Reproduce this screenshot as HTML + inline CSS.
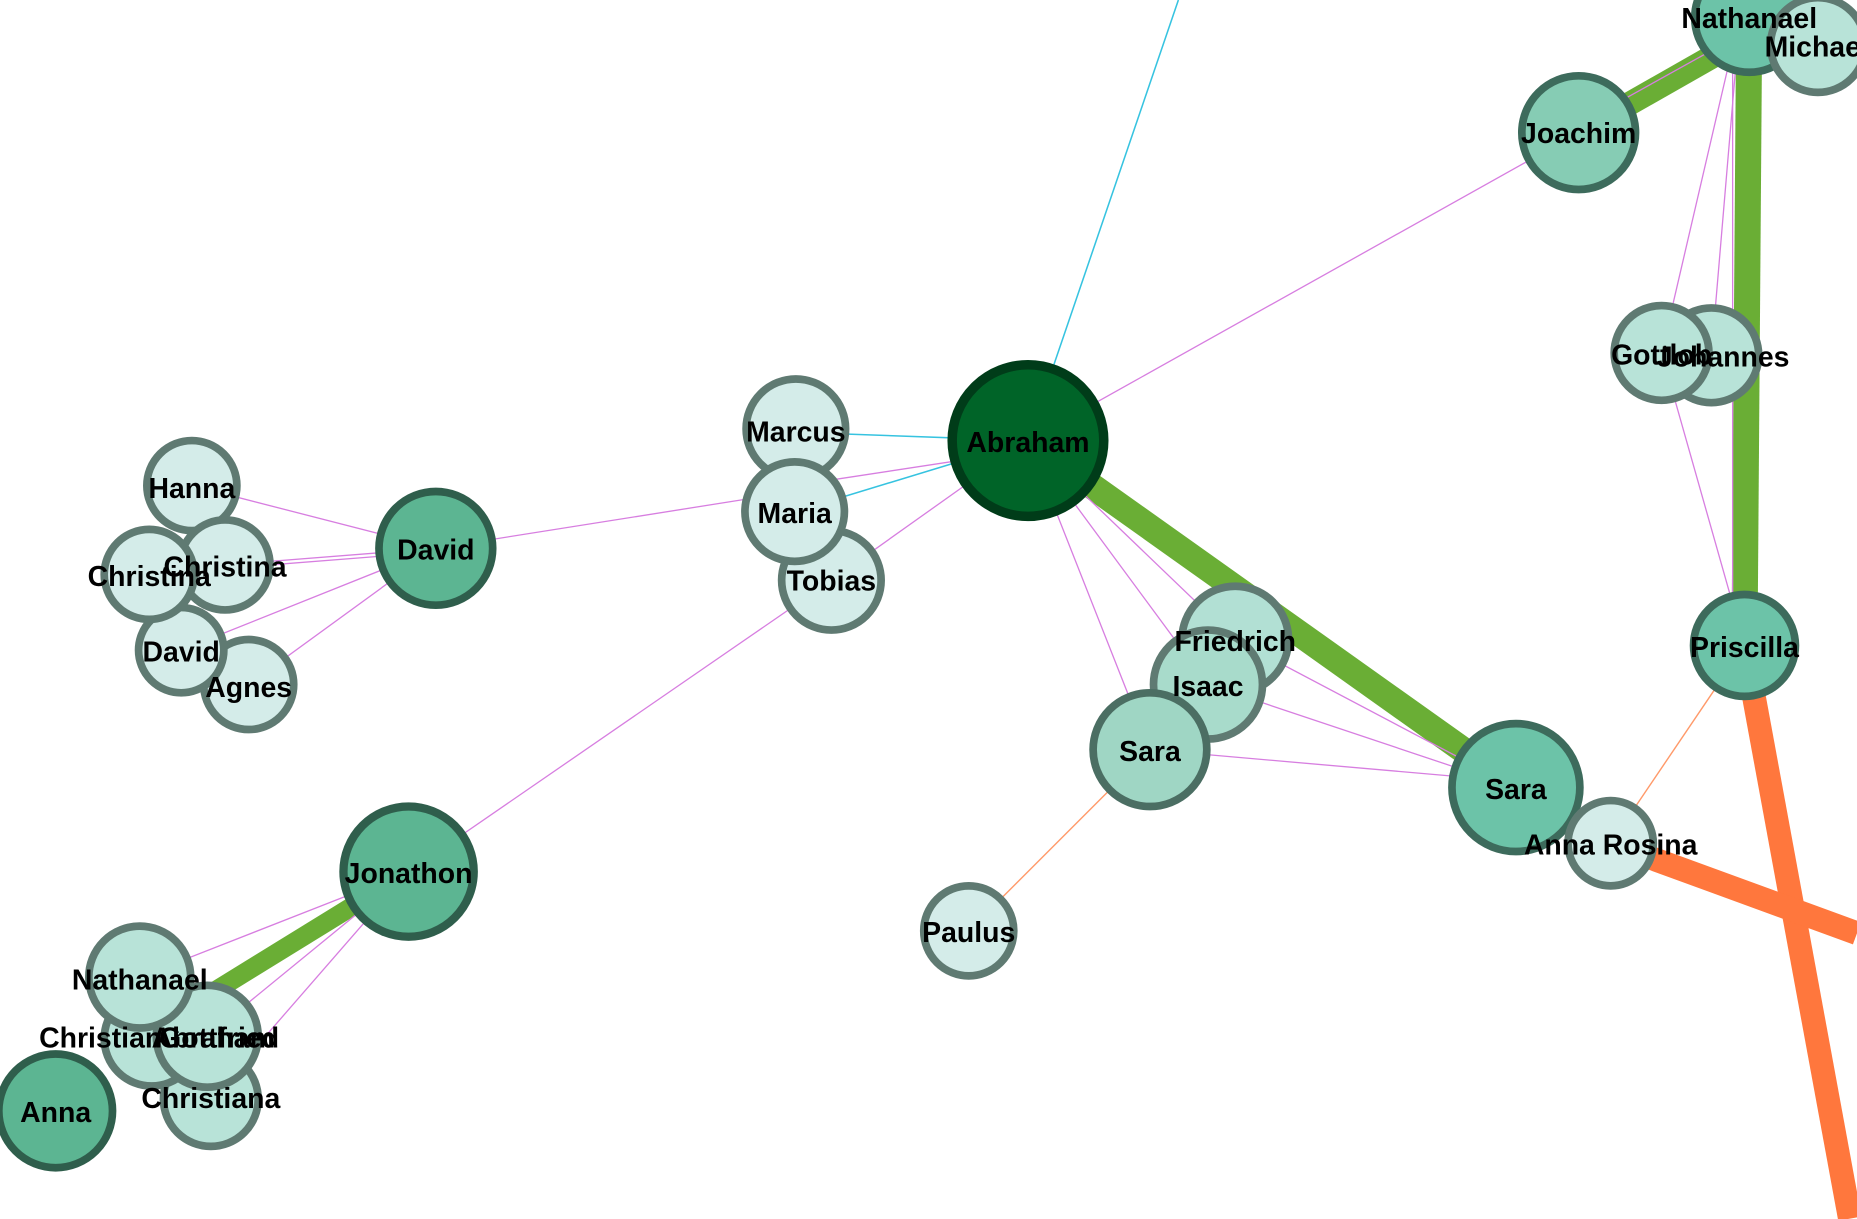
<!DOCTYPE html>
<html><head><meta charset="utf-8"><style>
html,body{margin:0;padding:0;background:#fff;overflow:hidden}
svg{display:block}
text{font-family:"Liberation Sans",Arial,sans-serif;font-weight:bold;font-size:24px;fill:#000;text-anchor:middle;dominant-baseline:central}
</style></head><body>
<svg width="1857" height="1219" viewBox="0 0 1568 1029.3" xmlns="http://www.w3.org/2000/svg">
<g fill="none" stroke-linecap="butt">
<line x1="868" y1="372" x2="1280" y2="665" stroke="#6aae35" stroke-width="22"/>
<line x1="1333" y1="112" x2="1477" y2="30" stroke="#6aae35" stroke-width="20"/>
<line x1="1477" y1="15" x2="1473" y2="545" stroke="#6aae35" stroke-width="22"/>
<line x1="345" y1="736" x2="160" y2="850" stroke="#6aae35" stroke-width="16"/>
<line x1="1473" y1="545" x2="1562" y2="1029" stroke="#ff773d" stroke-width="20"/>
<line x1="1360" y1="712" x2="1568" y2="788" stroke="#ff773d" stroke-width="20"/>
<g stroke="#36c3e0" stroke-width="1.3">
<line x1="868" y1="372" x2="995" y2="0"/>
<line x1="672" y1="365" x2="868" y2="372"/>
<line x1="671" y1="432" x2="868" y2="372"/>
</g>
<g stroke="#d77ee0" stroke-width="1.1">
<line x1="868" y1="372" x2="1333" y2="112"/>
<line x1="671" y1="410" x2="868" y2="380"/>
<line x1="702" y1="490" x2="868" y2="372"/>
<line x1="868" y1="372" x2="971" y2="633"/>
<line x1="868" y1="372" x2="1020" y2="578"/>
<line x1="868" y1="372" x2="1043" y2="540"/>
<line x1="1043" y1="540" x2="1280" y2="665"/>
<line x1="1020" y1="578" x2="1280" y2="665"/>
<line x1="971" y1="633" x2="1280" y2="660"/>
<line x1="368" y1="463" x2="671" y2="415"/>
<line x1="702" y1="490" x2="345" y2="736"/>
<line x1="368" y1="463" x2="162" y2="410"/>
<line x1="368" y1="463" x2="190" y2="477"/>
<line x1="368" y1="466" x2="126" y2="485"/>
<line x1="368" y1="463" x2="153" y2="549"/>
<line x1="368" y1="463" x2="210" y2="578"/>
<line x1="345" y1="736" x2="118" y2="825"/>
<line x1="345" y1="736" x2="175" y2="875"/>
<line x1="345" y1="736" x2="178" y2="928"/>
<line x1="1333" y1="105" x2="1477" y2="25"/>
<line x1="1463" y1="40" x2="1403" y2="298"/>
<line x1="1467" y1="40" x2="1445" y2="300"/>
<line x1="1463" y1="40" x2="1463" y2="520"/>
<line x1="1403" y1="298" x2="1473" y2="545"/>
</g>
<g stroke="#ff9a6a" stroke-width="1.2">
<line x1="971" y1="633" x2="818" y2="786"/>
<line x1="1473" y1="545" x2="1360" y2="712"/>
</g>
</g>
<g stroke-width="6.5">
<circle cx="1477" cy="15" r="46" fill="#6cc3a8" stroke="#3d6b5c"/>
<circle cx="1535" cy="38" r="40" fill="#b8e3d8" stroke="#5f7a72"/>
<circle cx="1333" cy="112" r="48" fill="#86ccb4" stroke="#3d6b5c"/>
<circle cx="1445" cy="300" r="40" fill="#b8e3d8" stroke="#5f7a72"/>
<circle cx="1403" cy="298" r="40" fill="#b8e3d8" stroke="#5f7a72"/>
<circle cx="1473" cy="545" r="43" fill="#6cc3a8" stroke="#3d6b5c"/>
<circle cx="1280" cy="665" r="54" fill="#6cc3a8" stroke="#3d6b5c"/>
<circle cx="1360" cy="712" r="36" fill="#d4ece9" stroke="#5f7a72"/>
<circle cx="1043" cy="540" r="45" fill="#b2e0d4" stroke="#5f7a72"/>
<circle cx="1020" cy="578" r="46" fill="#a8dbcb" stroke="#5f7a72"/>
<circle cx="971" cy="633" r="48" fill="#9fd6c4" stroke="#4b6e63"/>
<circle cx="818" cy="786" r="38" fill="#d4ece9" stroke="#5f7a72"/>
<circle cx="868" cy="372" r="64" fill="#006428" stroke="#003c19" stroke-width="8"/>
<circle cx="702" cy="490" r="42" fill="#d4ece9" stroke="#5f7a72"/>
<circle cx="672" cy="362" r="42" fill="#d4ece9" stroke="#5f7a72"/>
<circle cx="671" cy="432" r="42" fill="#d4ece9" stroke="#5f7a72"/>
<circle cx="368" cy="463" r="48" fill="#5cb592" stroke="#2f5e4c"/>
<circle cx="162" cy="410" r="38" fill="#d4ece9" stroke="#5f7a72"/>
<circle cx="210" cy="578" r="38" fill="#d4ece9" stroke="#5f7a72"/>
<circle cx="153" cy="549" r="36" fill="#d4ece9" stroke="#5f7a72"/>
<circle cx="190" cy="477" r="38" fill="#d4ece9" stroke="#5f7a72"/>
<circle cx="126" cy="485" r="38" fill="#d4ece9" stroke="#5f7a72"/>
<circle cx="345" cy="736" r="55" fill="#5cb592" stroke="#2f5e4c" stroke-width="7"/>
<circle cx="178" cy="928" r="40" fill="#b8e3d8" stroke="#5f7a72"/>
<circle cx="128" cy="877" r="40" fill="#b8e3d8" stroke="#5f7a72"/>
<circle cx="175" cy="875" r="43" fill="#b8e3d8" stroke="#5f7a72"/>
<circle cx="118" cy="825" r="43" fill="#b8e3d8" stroke="#5f7a72"/>
<circle cx="47" cy="938" r="48" fill="#5cb592" stroke="#2f5e4c"/>
</g>
<text x="1477" y="16">Nathanael</text>
<text x="1490" y="40" style="text-anchor:start">Michael</text>
<text x="1333" y="113">Joachim</text>
<text x="1403" y="300">Gottlob</text>
<text x="1455" y="302">Johannes</text>
<text x="1473" y="547">Priscilla</text>
<text x="1280" y="667">Sara</text>
<text x="1360" y="714">Anna Rosina</text>
<text x="1043" y="542">Friedrich</text>
<text x="1020" y="580">Isaac</text>
<text x="971" y="635">Sara</text>
<text x="818" y="788">Paulus</text>
<text x="868" y="374">Abraham</text>
<text x="672" y="365">Marcus</text>
<text x="671" y="434">Maria</text>
<text x="702" y="491">Tobias</text>
<text x="368" y="465">David</text>
<text x="162" y="413">Hanna</text>
<text x="190" y="479">Christina</text>
<text x="126" y="487">Christina</text>
<text x="153" y="551">David</text>
<text x="210" y="581">Agnes</text>
<text x="345" y="738">Jonathon</text>
<text x="118" y="828">Nathanael</text>
<text x="85" y="877">Christian</text>
<text x="180" y="877">Abraham</text>
<text x="185" y="877">Gottfried</text>
<text x="178" y="928">Christiana</text>
<text x="47" y="940">Anna</text>
</svg>
</body></html>
